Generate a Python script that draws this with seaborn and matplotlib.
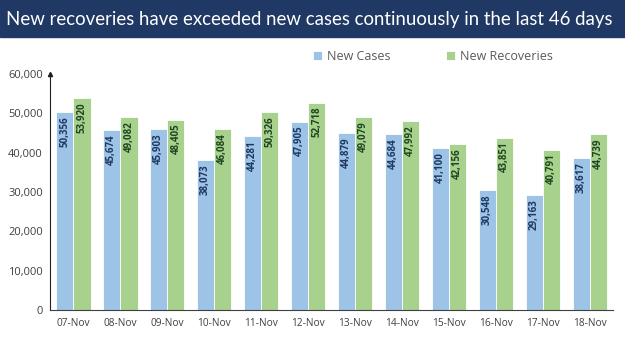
import matplotlib
matplotlib.use("Agg")
import matplotlib.pyplot as plt
import matplotlib.patches as mpatches
import pandas as pd
import seaborn as sns

dates = ["07-Nov", "08-Nov", "09-Nov", "10-Nov", "11-Nov", "12-Nov",
         "13-Nov", "14-Nov", "15-Nov", "16-Nov", "17-Nov", "18-Nov"]
new_cases = [50356, 45674, 45903, 38073, 44281, 47905,
             44879, 44684, 41100, 30548, 29163, 38617]
new_recoveries = [53920, 49082, 48405, 46084, 50326, 52718,
                  49079, 47992, 42156, 43851, 40791, 44739]

series = ["New Cases", "New Recoveries"]
colors = {"New Cases": "#9dc3e6", "New Recoveries": "#a9d18e"}
label_colors = {"New Cases": "#1f3864", "New Recoveries": "#1e4620"}

df = pd.DataFrame({
    "date": dates * 2,
    "value": new_cases + new_recoveries,
    "series": [series[0]] * len(dates) + [series[1]] * len(dates),
})

sns.set_style("white")
plt.rcParams["font.family"] = ["Open Sans", "DejaVu Sans"]

fig = plt.figure(figsize=(6.25, 3.51), dpi=100)
# title band
fig.patches.append(mpatches.Rectangle((0, 1 - 37 / 351), 1, 37 / 351, transform=fig.transFigure,
                                      color="#203864", zorder=0))
fig.text(0.01, 1 - 19 / 351, "New recoveries have exceeded new cases continuously in the last 46 days",
         color="white", fontsize=13.4, va="center", ha="left", family=["Lato", "DejaVu Sans"])

ax = fig.add_axes([0.08, 1 - 310 / 351, 0.901, (310 - 74) / 351])
sns.barplot(data=df, x="date", y="value", hue="series", palette=colors, width=0.73,
            edgecolor="white", linewidth=0.6, ax=ax, saturation=1)

for cont, name in zip(ax.containers, series):
    labels = [f"{int(v):,}" for v in cont.datavalues]
    ax.bar_label(cont, labels=labels, label_type="edge", padding=-3, rotation=90,
                 fontsize=7, fontweight="bold", color=label_colors[name])
    for t in ax.texts[-len(labels):]:
        t.set_va("top")

ax.set_ylim(0, 60000)
ax.set_yticks(range(0, 60001, 10000))
ax.set_yticklabels([f"{v:,}" for v in range(0, 60001, 10000)], fontsize=8, color="#404040")
ax.set_xlim(-0.5, len(dates) - 0.5)
ax.set_xticks(range(len(dates)))
ax.set_xticklabels(dates, fontsize=7.3, color="#404040")
ax.tick_params(axis="x", length=0, pad=6)
ax.tick_params(axis="y", length=0, pad=5)
# tick marks between categories
ax.set_xticks([i + 0.5 for i in range(-1, len(dates))], minor=True)
ax.tick_params(axis="x", which="minor", length=3, width=0.8, color="#404040", direction="out")
ax.set_xlabel("")
ax.set_ylabel("")
for side in ["top", "right"]:
    ax.spines[side].set_visible(False)
ax.spines["left"].set_color("#202020")
ax.spines["bottom"].set_color("#404040")
ax.spines["left"].set_linewidth(0.8)
ax.spines["bottom"].set_linewidth(0.8)
ax.plot(0, 1, "^", color="#202020", markersize=3, transform=ax.transAxes, clip_on=False)

handles, lbls = ax.get_legend_handles_labels()
ax.legend(handles, lbls, loc="upper center", bbox_to_anchor=(0.68, 1.15), ncol=2, frameon=False,
          fontsize=9, handlelength=0.7, handleheight=0.7, handletextpad=0.4, columnspacing=4.5,
          labelcolor="#595959")

fig.savefig("out.png", dpi=100)
